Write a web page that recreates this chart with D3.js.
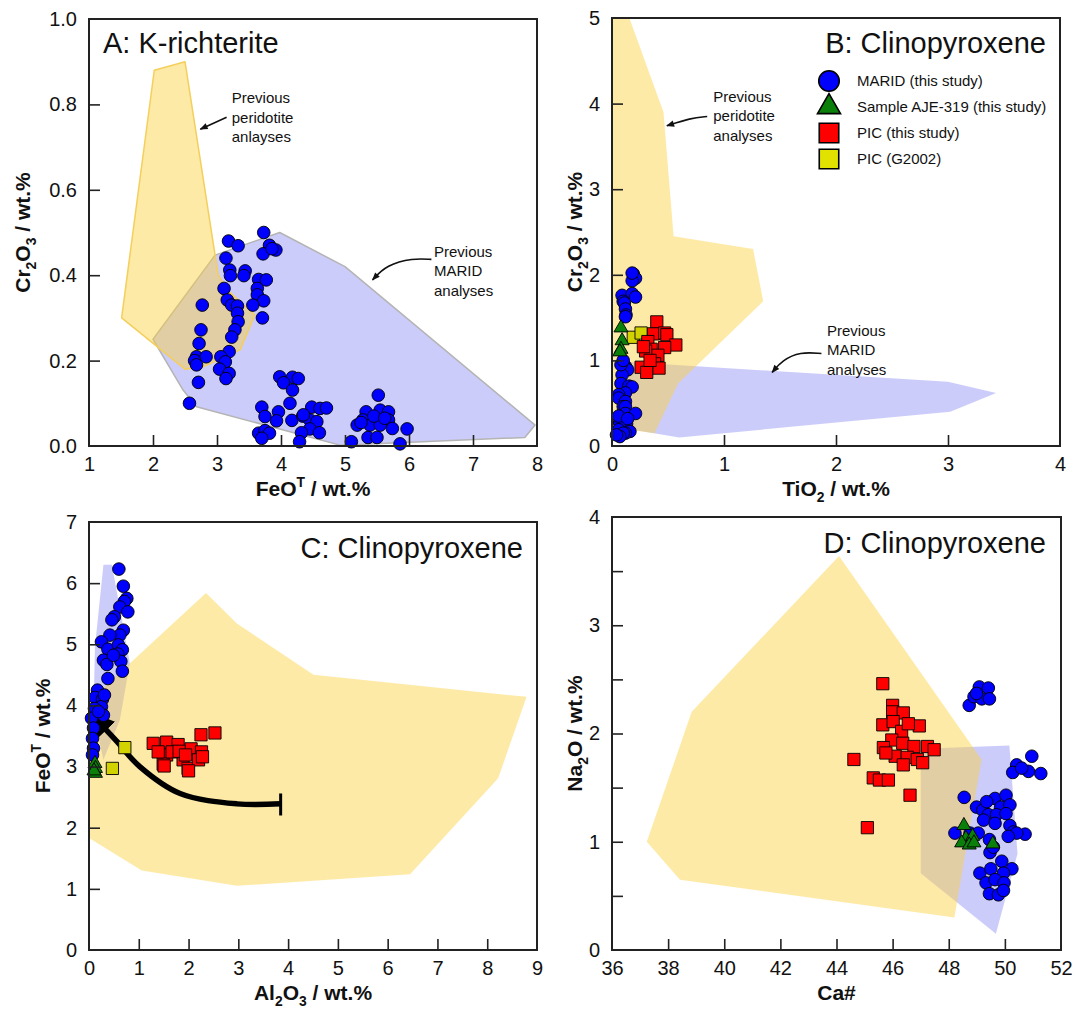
<!DOCTYPE html>
<html>
<head>
<meta charset="utf-8">
<script src="https://cdn.jsdelivr.net/npm/d3@7"></script>
<style>
  body { margin: 0; background: #fff; }
  text { font-family: "Liberation Sans", Arial, Helvetica, sans-serif; fill: #111; }
</style>
</head>
<body>
<div id="chart"></div>
<script>
// ---- A: K-richterite, FeO(T) vs Cr2O3 ----
const kricMarid = [
  [3.18,0.48],[3.33,0.469],[3.73,0.50],[3.82,0.47],[3.72,0.45],[3.92,0.459],[3.86,0.462],
  [3.14,0.44],[3.20,0.412],[3.21,0.399],[3.44,0.41],[3.42,0.399],[3.65,0.39],[3.77,0.389],
  [3.63,0.369],[3.63,0.354],[3.73,0.34],[3.56,0.33],[3.71,0.30],[3.11,0.369],[2.77,0.33],
  [3.16,0.342],[3.23,0.33],[3.32,0.328],[3.32,0.311],[3.33,0.291],[3.28,0.272],[3.23,0.255],
  [2.75,0.272],[2.72,0.24],[3.19,0.221],[2.68,0.209],[2.83,0.209],[2.65,0.20],[2.68,0.19],
  [3.06,0.209],[3.13,0.197],[3.04,0.18],[3.19,0.17],[3.14,0.158],[2.71,0.149],[2.57,0.10],
  [3.98,0.162],[4.18,0.161],[4.27,0.158],[4.04,0.148],[4.18,0.131],[4.14,0.10],[3.70,0.091],
  [3.75,0.069],[3.96,0.08],[3.93,0.059],[4.17,0.06],[3.65,0.03],[3.75,0.036],[3.82,0.03],
  [3.70,0.018],[4.34,0.07],[4.48,0.091],[4.61,0.088],[4.71,0.089],[4.45,0.061],[4.56,0.057],
  [4.45,0.04],[4.60,0.031],[4.32,0.031],[4.29,0.01],[4.35,0.073],
  [5.52,0.119],[5.33,0.08],[5.28,0.061],[5.19,0.049],[5.39,0.049],[5.55,0.084],[5.68,0.08],
  [5.68,0.061],[5.55,0.049],[5.74,0.041],[5.36,0.02],[5.50,0.02],[5.10,0.01],[5.97,0.04],
  [5.86,0.005],[5.45,0.07],[5.62,0.065],[5.25,0.055]
];
const kricMaridPoly = [[2.0,0.25],[2.97,0.447],[3.98,0.50],[5.0,0.42],[7.97,0.049],[7.81,0.02],[4.92,0.002],[2.68,0.092],[2.47,0.131]];
const kricPeridotitePoly = [[2.02,0.88],[2.50,0.90],[2.97,0.447],[3.02,0.40],[3.2,0.36],[3.59,0.307],[3.36,0.225],[2.79,0.186],[2.5,0.18],[1.51,0.30]];

// ---- B: Clinopyroxene, TiO2 vs Cr2O3 ----
const cpxTiMarid = [
  [0.19,2.01],[0.21,1.96],[0.18,1.93],[0.18,2.02],[0.09,1.76],[0.18,1.78],[0.21,1.74],[0.10,1.69],
  [0.11,1.67],[0.12,1.60],[0.125,1.53],[0.12,1.51],[0.12,0.93],[0.14,0.89],[0.09,0.83],[0.08,0.73],
  [0.15,0.70],[0.18,0.69],[0.12,0.62],[0.06,0.60],[0.06,0.56],[0.12,0.52],[0.10,0.46],[0.12,0.46],
  [0.12,0.38],[0.21,0.38],[0.07,0.28],[0.13,0.26],[0.07,0.265],[0.06,0.19],[0.16,0.17],[0.12,0.15],
  [0.10,0.15],[0.07,0.11],[0.04,0.13],[0.08,0.95],[0.10,1.0],[0.06,0.35],[0.14,0.32]
];
const cpxTiAje = [[0.08,1.38],[0.09,1.23],[0.08,1.13],[0.07,1.10]];
const cpxTiPic = [
  [0.40,1.45],[0.37,1.31],[0.47,1.32],[0.49,1.30],[0.32,1.22],[0.57,1.18],[0.47,1.15],[0.35,1.13],
  [0.41,1.06],[0.30,1.11],[0.38,0.96],[0.26,0.92],[0.31,0.86],[0.42,0.91],[0.34,1.00],[0.28,1.16]
];
const cpxTiG2002 = [[0.19,1.27],[0.26,1.32]];
const cpxTiMaridPoly = [[0.15,0.98],[3.0,0.75],[3.43,0.62],[3.02,0.40],[0.6,0.1],[0.15,0.2]];
const cpxTiPeridotitePoly = [[0,5],[0.155,5],[0.46,3.9],[0.55,2.45],[1.26,2.3],[1.35,1.69],[0.59,0.73],[0.38,0.15],[0.1,0.2],[0,0.25]];

// ---- C: Clinopyroxene, Al2O3 vs FeO(T) ----
const cpxAlMarid = [
  [0.60,6.23],[0.69,5.95],[0.76,5.75],[0.71,5.70],[0.62,5.61],[0.78,5.53],[0.51,5.45],[0.46,5.40],
  [0.69,5.23],[0.62,5.15],[0.42,5.15],[0.25,5.04],[0.38,4.92],[0.59,4.99],[0.67,4.91],[0.58,4.84],
  [0.29,4.74],[0.36,4.67],[0.64,4.72],[0.67,4.56],[0.38,4.44],[0.49,4.82],[0.17,4.25],[0.12,4.13],
  [0.27,4.10],[0.25,3.98],[0.11,3.95],[0.29,3.84],[0.05,3.79],[0.09,3.63],[0.07,3.46],[0.09,3.30],
  [0.07,3.19],[0.31,4.17],[0.19,3.90]
];
const cpxAlAje = [[0.12,3.05],[0.13,2.97],[0.13,2.89],[0.10,2.93]];
const cpxAlPic = [
  [1.29,3.38],[1.56,3.40],[1.79,3.36],[2.25,3.52],[2.53,3.55],[2.05,3.29],[2.26,3.24],[1.56,3.19],
  [1.49,3.04],[1.89,3.11],[1.67,3.24],[1.99,2.97],[2.20,3.11],[1.39,3.24],[1.81,3.25],[1.94,3.19],
  [2.0,2.93],[2.28,3.16],[1.51,3.01]
];
const cpxAlG2002 = [[0.72,3.31],[0.47,2.97]];
const cpxAlMaridPoly = [[0.29,6.30],[0.46,6.30],[0.82,4.69],[0.62,3.76],[0.29,3.11],[0.09,3.87],[0.12,4.96]];
const cpxAlPeridotitePoly = [[0,1.83],[1.06,1.30],[2.97,1.05],[6.45,1.24],[8.22,2.81],[8.79,4.14],[4.51,4.50],[2.97,5.34],[2.35,5.84],[0.86,4.72],[0,4.07]];
const cpxAlTrend = [[3.85,2.39],[2.97,2.39],[1.83,2.56],[1.02,3.0],[0.55,3.42],[0.32,3.62]];
const cpxAlTrendBar = [[3.85,2.2],[3.85,2.56]];

// ---- D: Clinopyroxene, Ca# vs Na2O ----
const cpxCaMarid = [
  [48.73,2.26],[48.90,2.34],[49.09,2.43],[49.41,2.42],[49.18,2.32],[49.45,2.32],[48.99,2.37],
  [50.96,1.79],[50.42,1.71],[50.28,1.64],[50.84,1.65],[51.28,1.63],[50.6,1.68],
  [48.55,1.41],[48.99,1.32],[49.21,1.29],[49.65,1.40],[50.04,1.43],[49.35,1.37],[49.85,1.32],
  [50.18,1.34],[49.41,1.25],[49.70,1.25],[50.04,1.26],[49.24,1.20],[49.65,1.17],[50.18,1.15],
  [50.30,1.09],[50.72,1.07],[50.42,1.08],[48.22,1.08],[48.76,1.08],[49.05,1.08],[49.45,1.02],
  [50.12,1.05],[49.47,0.90],[49.59,0.95],[49.89,0.82],[50.25,0.75],[49.11,0.71],[49.50,0.75],
  [49.95,0.71],[49.33,0.62],[49.65,0.65],[49.97,0.62],[49.45,0.52],[49.77,0.51],[49.95,0.55]
];
const cpxCaAje = [[48.54,1.15],[48.61,1.03],[48.85,1.05],[48.46,0.99],[48.73,0.97],[48.9,0.99],[49.57,0.98]];
const cpxCaPic = [
  [45.65,2.46],[46.0,2.26],[46.0,2.20],[46.38,2.19],[45.65,2.08],[46.02,2.11],[46.32,2.02],[46.95,2.07],
  [46.56,2.09],[45.97,1.94],[45.67,1.87],[46.36,1.91],[46.76,1.88],[47.24,1.88],[47.48,1.85],[46.09,1.79],
  [46.52,1.78],[46.88,1.76],[47.07,1.73],[46.38,1.71],[45.76,1.82],[44.62,1.76],[45.31,1.59],[45.53,1.57],
  [45.85,1.57],[46.62,1.43],[45.10,1.13]
];
const cpxCaMaridPoly = [[47.0,1.86],[50.16,1.89],[50.45,0.89],[49.68,0.15],[47.0,0.71]];
const cpxCaPeridotitePoly = [[44.09,3.64],[49.17,1.76],[48.20,0.30],[38.42,0.65],[37.24,1.0],[38.84,2.20]];

const legendLabels = ["MARID (this study)", "Sample AJE-319 (this study)", "PIC (this study)", "PIC (G2002)"];

// ---- styles ----
const blueFill = "rgba(110,110,240,0.35)";
const yellowFill = "rgba(252,208,60,0.45)";
const markerStyle = {
  marid: {shape: d3.symbolCircle, size: 125, fill: "#0000ff"},
  aje: {shape: d3.symbolTriangle, size: 85, fill: "#0a800a"},
  pic: {shape: d3.symbolSquare, size: 150, fill: "#ff0000"},
  g2002: {shape: d3.symbolSquare, size: 150, fill: "#d2d200"}
};

const svg = d3.select("#chart").append("svg")
  .attr("width", 1077).attr("height", 1017)
  .style("background", "#fff");

const defs = svg.append("defs");
defs.append("marker").attr("id", "headSmall")
  .attr("viewBox", "0 -5 10 10").attr("refX", 9).attr("refY", 0)
  .attr("markerWidth", 9).attr("markerHeight", 8)
  .attr("markerUnits", "userSpaceOnUse").attr("orient", "auto")
  .append("path").attr("d", "M0,-4L10,0L0,4Z").attr("fill", "#111");
defs.append("marker").attr("id", "headBig")
  .attr("viewBox", "0 -12 26 24").attr("refX", 2).attr("refY", 0)
  .attr("markerWidth", 26).attr("markerHeight", 24)
  .attr("markerUnits", "userSpaceOnUse").attr("orient", "auto")
  .append("path").attr("d", "M0,-12L26,0L0,12Z").attr("fill", "#000");

// text with sub/superscripts
function richText(sel, parts, size) {
  let shift = 0;
  parts.forEach(([t, kind]) => {
    let target = kind === "sub" ? size * 0.3 : kind === "sup" ? -size * 0.42 : 0;
    sel.append("tspan")
      .attr("dy", target - shift)
      .attr("font-size", kind ? size * 0.66 : size)
      .text(t);
    shift = target;
  });
}

const panels = [
  {
    key: "A", box: [89, 19, 537, 446], xd: [1, 8], yd: [0, 1],
    xLabels: d3.range(1, 9), yLabels: [0, 0.2, 0.4, 0.6, 0.8, 1.0], yFmt: d3.format(".1f"),
    title: "A: K-richterite", titleX: 103, titleY: 53, titleAnchor: "start",
    xTitle: [["FeO"], ["T", "sup"], [" / wt.%"]],
    yTitle: [["Cr"], ["2", "sub"], ["O"], ["3", "sub"], [" / wt.%"]], yTitleX: 30,
    polys: [{d: kricMaridPoly, fill: blueFill, stroke: "#b4b4b4"}, {d: kricPeridotitePoly, fill: yellowFill, stroke: "#f4cf5c"}],
    series: [["marid", kricMarid]],
    notes: [
      {x: 3.23, y: 0.803, lines: ["Previous", "peridotite", "anlayses"], arrow: [[3.15, 0.77], [2.74, 0.742]], curve: d3.curveLinear},
      {x: 6.39, y: 0.443, lines: ["Previous", "MARID", "analyses"], arrow: [[6.35, 0.437], [6.06, 0.44], [5.65, 0.424], [5.43, 0.389]], curve: d3.curveBasis}
    ]
  },
  {
    key: "B", box: [612, 18, 1060, 446], xd: [0, 4], yd: [0, 5],
    xLabels: d3.range(0, 5), yLabels: d3.range(0, 6), yFmt: d3.format("d"),
    title: "B: Clinopyroxene", titleX: 1046, titleY: 53, titleAnchor: "end",
    xTitle: [["TiO"], ["2", "sub"], [" / wt.%"]],
    yTitle: [["Cr"], ["2", "sub"], ["O"], ["3", "sub"], [" / wt.%"]], yTitleX: 582,
    polys: [{d: cpxTiMaridPoly, fill: blueFill}, {d: cpxTiPeridotitePoly, fill: yellowFill}],
    series: [["marid", cpxTiMarid], ["g2002", cpxTiG2002], ["pic", cpxTiPic], ["aje", cpxTiAje]],
    notes: [
      {x: 0.904, y: 4.02, lines: ["Previous", "peridotite", "analyses"], arrow: [[0.85, 3.85], [0.70, 3.83], [0.49, 3.74]], curve: d3.curveBasis},
      {x: 1.92, y: 1.29, lines: ["Previous", "MARID", "analyses"], arrow: [[1.87, 1.08], [1.68, 1.10], [1.52, 1.0], [1.43, 0.86]], curve: d3.curveBasis}
    ],
    legend: true
  },
  {
    key: "C", box: [89, 522, 537, 950], xd: [0, 9], yd: [0, 7],
    xLabels: d3.range(0, 10), yLabels: d3.range(0, 8), yFmt: d3.format("d"),
    title: "C: Clinopyroxene", titleX: 523, titleY: 558, titleAnchor: "end",
    xTitle: [["Al"], ["2", "sub"], ["O"], ["3", "sub"], [" / wt.%"]],
    yTitle: [["FeO"], ["T", "sup"], [" / wt.%"]], yTitleX: 50,
    polys: [{d: cpxAlMaridPoly, fill: blueFill}, {d: cpxAlPeridotitePoly, fill: yellowFill}],
    series: [["marid", cpxAlMarid], ["g2002", cpxAlG2002], ["pic", cpxAlPic], ["aje", cpxAlAje]],
    notes: [],
    trend: true
  },
  {
    key: "D", box: [612, 517, 1061, 950], xd: [36, 52], yd: [0, 4],
    xLabels: d3.range(36, 53, 2), yLabels: d3.range(0, 5), yFmt: d3.format("d"),
    yMinor: d3.range(0.5, 4, 0.5),
    title: "D: Clinopyroxene", titleX: 1046, titleY: 553, titleAnchor: "end",
    xTitle: [["Ca#"]],
    yTitle: [["Na"], ["2", "sub"], ["O / wt.%"]], yTitleX: 582,
    polys: [{d: cpxCaMaridPoly, fill: blueFill}, {d: cpxCaPeridotitePoly, fill: yellowFill}],
    series: [["marid", cpxCaMarid], ["pic", cpxCaPic], ["aje", cpxCaAje]],
    notes: []
  }
];

panels.forEach(p => {
  const [left, top, right, bottom] = p.box;
  const x = d3.scaleLinear().domain(p.xd).range([left, right]);
  const y = d3.scaleLinear().domain(p.yd).range([bottom, top]);
  const g = svg.append("g").attr("class", "panel-" + p.key);

  // clip for the fields
  defs.append("clipPath").attr("id", "clip" + p.key)
    .append("rect").attr("x", left).attr("y", top)
    .attr("width", right - left).attr("height", bottom - top);

  const fields = g.append("g").attr("clip-path", "url(#clip" + p.key + ")");
  fields.selectAll("path")
    .data(p.polys).join("path")
    .attr("d", d => "M" + d.d.map(v => [x(v[0]), y(v[1])].join(",")).join("L") + "Z")
    .attr("fill", d => d.fill)
    .attr("stroke", d => d.stroke || "none")
    .attr("stroke-width", 1.5)
    .attr("stroke-linejoin", "round");

  // annotations
  p.notes.forEach(n => {
    const t = g.append("text")
      .attr("x", x(n.x)).attr("y", y(n.y))
      .attr("font-size", 15);
    n.lines.forEach((l, i) => {
      t.append("tspan").attr("x", x(n.x)).attr("dy", i ? 19.5 : 0).text(l);
    });
    g.append("path")
      .attr("d", d3.line().x(d => x(d[0])).y(d => y(d[1])).curve(n.curve)(n.arrow))
      .attr("fill", "none").attr("stroke", "#111").attr("stroke-width", 1.6)
      .attr("marker-end", "url(#headSmall)");
  });

  if (p.trend) {
    g.append("path")
      .attr("d", d3.line().x(d => x(d[0])).y(d => y(d[1])).curve(d3.curveCatmullRom)(cpxAlTrend))
      .attr("fill", "none").attr("stroke", "#000").attr("stroke-width", 5.5)
      .attr("marker-end", "url(#headBig)");
    g.append("line")
      .attr("x1", x(cpxAlTrendBar[0][0])).attr("y1", y(cpxAlTrendBar[0][1]))
      .attr("x2", x(cpxAlTrendBar[1][0])).attr("y2", y(cpxAlTrendBar[1][1]))
      .attr("stroke", "#000").attr("stroke-width", 3);
  }

  // markers
  p.series.forEach(([kind, data]) => {
    const st = markerStyle[kind];
    g.append("g").selectAll("path")
      .data(data).join("path")
      .attr("transform", d => `translate(${x(d[0])},${y(d[1])})`)
      .attr("d", d3.symbol().type(st.shape).size(st.size))
      .attr("fill", st.fill)
      .attr("stroke", "#000").attr("stroke-width", 0.9);
  });

  // inward ticks
  const xInner = p.xLabels.filter(v => v > p.xd[0] && v < p.xd[1]);
  const yInner = (p.yMinor || p.yLabels).filter(v => v > p.yd[0] && v < p.yd[1]);
  g.append("g").attr("transform", `translate(0,${bottom})`)
    .call(d3.axisBottom(x).tickValues(xInner).tickSize(-11).tickFormat(""))
    .call(a => a.select(".domain").remove())
    .selectAll("line").attr("stroke", "#222").attr("stroke-width", 1.6);
  g.append("g").attr("transform", `translate(${left},0)`)
    .call(d3.axisLeft(y).tickValues(yInner).tickSize(-11).tickFormat(""))
    .call(a => a.select(".domain").remove())
    .selectAll("line").attr("stroke", "#222").attr("stroke-width", 1.6);

  // tick labels
  const xl = g.append("g").attr("transform", `translate(0,${bottom})`)
    .call(d3.axisBottom(x).tickValues(p.xLabels).tickSize(0).tickPadding(11).tickFormat(d3.format("d")));
  const yl = g.append("g").attr("transform", `translate(${left},0)`)
    .call(d3.axisLeft(y).tickValues(p.yLabels).tickSize(0).tickPadding(12).tickFormat(p.yFmt));
  [xl, yl].forEach(a => {
    a.select(".domain").remove();
    a.attr("font-family", null);
    a.selectAll("text").attr("font-size", 20).attr("fill", "#111");
  });

  // frame
  g.append("rect")
    .attr("x", left).attr("y", top)
    .attr("width", right - left).attr("height", bottom - top)
    .attr("fill", "none").attr("stroke", "#222").attr("stroke-width", 2);

  // panel title
  g.append("text")
    .attr("x", p.titleX).attr("y", p.titleY)
    .attr("text-anchor", p.titleAnchor)
    .attr("font-size", 29)
    .text(p.title);

  // axis titles
  const xt = g.append("text")
    .attr("x", (left + right) / 2).attr("y", bottom + 50)
    .attr("text-anchor", "middle").attr("font-weight", "bold");
  richText(xt, p.xTitle, 21);
  const yt = g.append("text")
    .attr("transform", `translate(${p.yTitleX},${(top + bottom) / 2}) rotate(-90)`)
    .attr("text-anchor", "middle").attr("font-weight", "bold");
  richText(yt, p.yTitle, 21);

  // legend
  if (p.legend) {
    const keys = ["marid", "aje", "pic", "g2002"];
    const sizes = {marid: 330, aje: 230, pic: 380, g2002: 380};
    const lg = g.append("g").attr("transform", "translate(829,81)");
    const row = lg.selectAll("g").data(keys).join("g")
      .attr("transform", (d, i) => `translate(0,${i * 26})`);
    row.append("path")
      .attr("d", d => d3.symbol().type(markerStyle[d].shape).size(sizes[d])())
      .attr("fill", d => d === "g2002" ? "#e2e200" : markerStyle[d].fill)
      .attr("stroke", "#000").attr("stroke-width", 1.6);
    row.append("text")
      .attr("x", 28).attr("dy", "0.36em")
      .attr("font-size", 15)
      .text((d, i) => legendLabels[i]);
  }
});
</script>
</body>
</html>
